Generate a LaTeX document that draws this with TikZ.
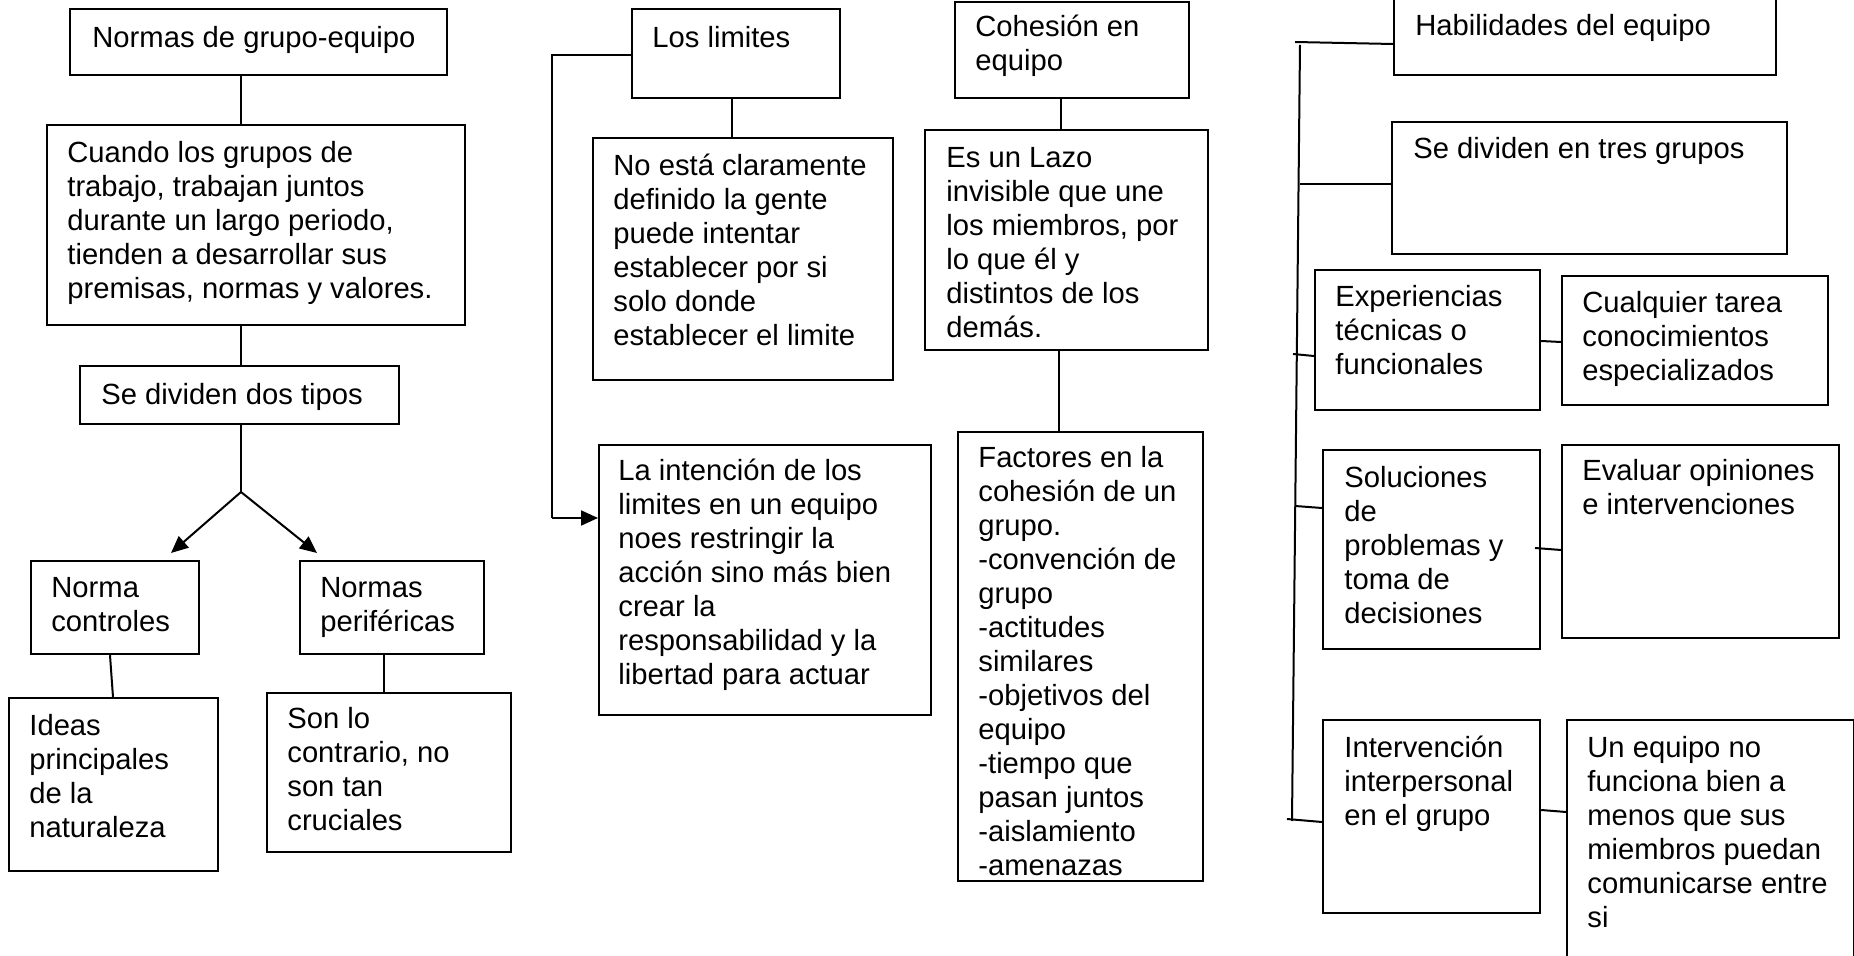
\documentclass[tikz,border=0pt]{standalone}
\usepackage{fontspec}
\setmainfont{Liberation Sans}
\usetikzlibrary{arrows.meta,calc}
\tikzset{
  box/.style={draw=black, line width=1.1pt, inner sep=0pt, fill=none},
  txt/.style={anchor=north west, inner sep=0pt, align=left, font=\fontsize{14.6pt}{17pt}\selectfont},
  con/.style={draw=black, line width=1pt},
  arr/.style={con, -{Triangle[length=8.5pt,width=7.5pt]}}
}
\newcommand\bx[8]{%
  \node[box, minimum width={(#4-#2)*0.5pt}, minimum height={(#5-#3)*0.5pt}, anchor=north west] (#1) at (#2,#3) {};
  \node[txt] (#1t) at (#6,#7-24) {\rule{0pt}{12pt}#8};
}
\begin{document}
\begin{tikzpicture}[x=0.5pt,y=-0.5pt]
\useasboundingbox (0,0) rectangle (1854,956);
\fill[white] (0,0) rectangle (1854,956);
\clip (0,0) rectangle (1854,956);
% left column
\bx{nge}{69}{8}{446}{74}{92}{47}{Normas de grupo-equipo}
\bx{cua}{46}{124}{464}{324}{67}{162}{Cuando los grupos de\\trabajo, trabajan juntos\\durante un largo periodo,\\tienden a desarrollar sus\\premisas, normas y valores.}
\bx{sdd}{79}{365}{398}{423}{101}{404}{Se dividen dos tipos}
\bx{nco}{30}{560}{198}{653}{51}{597}{Norma\\controles}
\bx{npe}{299}{560}{483}{653}{320}{597}{Normas\\periféricas}
\bx{ide}{8}{697}{217}{870}{29}{735}{Ideas\\principales\\de la\\naturaleza}
\bx{son}{266}{692}{510}{851}{287}{728}{Son lo\\contrario, no\\son tan\\cruciales}
% second column
\bx{lim}{631}{8}{839}{97}{652}{47}{Los limites}
\bx{noe}{592}{137}{892}{379}{613}{175}{No está claramente\\definido la gente\\puede intentar\\establecer por si\\solo donde\\establecer el limite}
\bx{int}{598}{444}{930}{714}{618}{480}{La intención de los\\limites en un equipo\\noes restringir la\\acción sino más bien\\crear la\\responsabilidad y la\\libertad para actuar}
% third column
\bx{coh}{954}{1}{1188}{97}{975}{36}{Cohesión en\\equipo}
\bx{laz}{924}{129}{1207}{349}{946}{167}{Es un Lazo\\invisible que une\\los miembros, por\\lo que él y\\distintos de los\\demás.}
\bx{fac}{957}{431}{1202}{880}{978}{467}{Factores en la\\cohesión de un\\grupo.\\-convención de\\grupo\\-actitudes\\similares\\-objetivos del\\equipo\\-tiempo que\\pasan juntos\\-aislamiento\\-amenazas}
% right column
\bx{hab}{1393}{-10}{1775}{74}{1415}{35}{Habilidades del equipo}
\bx{sdt}{1391}{121}{1786}{253}{1413}{158}{Se dividen en tres grupos}
\bx{exp}{1314}{269}{1539}{409}{1335}{306}{Experiencias\\técnicas o\\funcionales}
\bx{cual}{1561}{275}{1827}{404}{1582}{312}{Cualquier tarea\\conocimientos\\especializados}
\bx{sol}{1322}{449}{1539}{648}{1344}{487}{Soluciones\\de\\problemas y\\toma de\\decisiones}
\bx{eva}{1561}{444}{1838}{637}{1582}{480}{Evaluar opiniones\\e intervenciones}
\bx{itv}{1322}{719}{1539}{912}{1344}{757}{Intervención\\interpersonal\\en el grupo}
\bx{une}{1566}{719}{1853}{975}{1587}{757}{Un equipo no\\funciona bien a\\menos que sus\\miembros puedan\\comunicarse entre\\si}
% connectors left column
\coordinate (fork) at (241,492);
\coordinate (ncoTip) at (171,553);
\coordinate (npeTip) at (317,553);
\draw[con] (241,0 |- nge.south) -- (241,0 |- cua.north);
\draw[con] (241,0 |- cua.south) -- (241,0 |- sdd.north);
\draw[con] (241,0 |- sdd.south) -- (fork);
\draw[arr] (fork) -- (ncoTip);
\draw[arr] (fork) -- (npeTip);
\draw[con] (110,0 |- nco.south) -- (113,0 |- ide.north);
\draw[con] (384,0 |- npe.south) -- (384,0 |- son.north);
% second column
\draw[con] (lim.west |- 0,55) -- (552,55) -- (552,518);
\draw[arr] (552,518) -- (int.west |- 0,518);
\draw[con] (732,0 |- lim.south) -- (732,0 |- noe.north);
% third column
\draw[con] (1061,0 |- coh.south) -- (1061,0 |- laz.north);
\draw[con] (1059,0 |- laz.south) -- (1059,0 |- fac.north);
% right column
\coordinate (trTop) at (1300,45);
\coordinate (trBot) at (1292,821);
\draw[con] (trTop) -- (trBot);
\draw[con] (hab.west |- 0,44) -- (1295,42);
\draw[con] (1300,184) -- (sdt.west |- 0,184);
\draw[con] (1293,354) -- (exp.west |- 0,356);
\draw[con] (1295,506) -- (sol.west |- 0,508);
\draw[con] (1287,819) -- (itv.west |- 0,822);
\draw[con] (exp.east |- 0,341) -- (cual.west |- 0,342);
\draw[con] (1535,548) -- (eva.west |- 0,550);
\draw[con] (itv.east |- 0,810) -- (une.west |- 0,812);
\end{tikzpicture}
\end{document}
